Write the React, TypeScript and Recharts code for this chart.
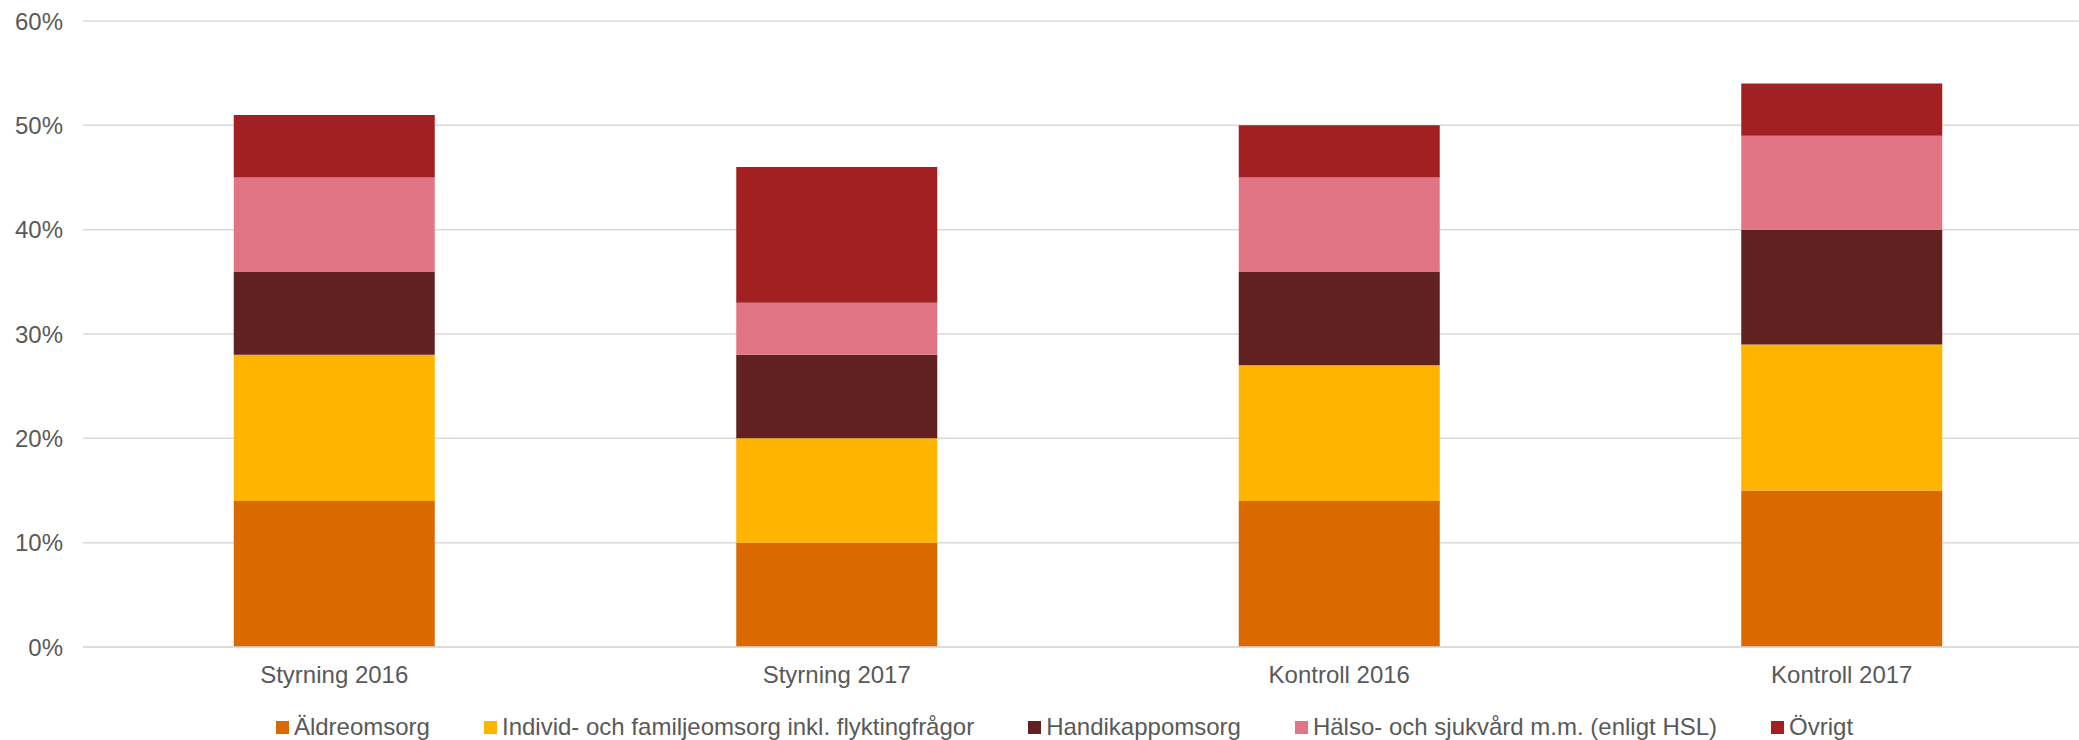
import React from 'react';
import { BarChart, Bar, XAxis, YAxis, CartesianGrid, Legend } from 'recharts';

const categories = ['Styrning 2016', 'Styrning 2017', 'Kontroll 2016', 'Kontroll 2017'];
const aldreomsorg = [14, 10, 14, 15];
const individ = [14, 10, 13, 14];
const handikapp = [8, 8, 9, 11];
const halso = [9, 5, 9, 9];
const ovrigt = [6, 13, 5, 5];
const yTicks = [0, 10, 20, 30, 40, 50, 60];

const series = [
  { key: 'aldre', name: 'Äldreomsorg', color: '#DA6900', values: aldreomsorg },
  { key: 'individ', name: 'Individ- och familjeomsorg inkl. flyktingfrågor', color: '#FFB400', values: individ },
  { key: 'handikapp', name: 'Handikappomsorg', color: '#612121', values: handikapp },
  { key: 'halso', name: 'Hälso- och sjukvård m.m. (enligt HSL)', color: '#E27585', values: halso },
  { key: 'ovrigt', name: 'Övrigt', color: '#A21F22', values: ovrigt },
];

const data = categories.map((cat, i) => {
  const row: any = { category: cat };
  series.forEach((s) => {
    row[s.key] = s.values[i];
  });
  return row;
});

const FONT = '"Liberation Sans", Arial, sans-serif';

// legend is centred on the visible 2079px, not on the wider chart
const LegendContent = () => (
  <div
    style={{
      display: 'flex',
      justifyContent: 'center',
      gap: 54,
      fontFamily: FONT,
      fontSize: 24,
      color: '#595959',
      width: 2079,
      paddingLeft: 50,
      boxSizing: 'border-box',
      marginTop: 3,
    }}
  >
    {series.map((s) => (
      <div key={s.key} style={{ display: 'flex', alignItems: 'center' }}>
        <span style={{ width: 13, height: 13, background: s.color, marginRight: 5, display: 'inline-block' }} />
        <span>{s.name}</span>
      </div>
    ))}
  </div>
);

export default function App() {
  return (
    <div style={{ width: 2079, height: 740, background: '#fff', overflow: 'hidden' }}>
      <style>{`body{margin:0}`}</style>
      <BarChart
        width={2093}
        height={740}
        data={data}
        margin={{ top: 21, right: 0, left: 0, bottom: 0 }}
        barCategoryGap="30%"
      >
        <CartesianGrid vertical={false} stroke="#D9D9D9" strokeWidth={1.5} />
        <XAxis
          dataKey="category"
          axisLine={{ stroke: '#D9D9D9', strokeWidth: 1.5 }}
          tickLine={false}
          tickSize={0}
          tickMargin={19}
          height={63}
          tick={{ fill: '#595959', fontSize: 24, fontFamily: FONT }}
        />
        <YAxis
          domain={[0, 60]}
          ticks={yTicks}
          tickFormatter={(v: number) => `${v}%`}
          axisLine={false}
          tickLine={false}
          tickSize={0}
          tickMargin={20}
          width={83}
          tick={{ fill: '#595959', fontSize: 24, fontFamily: FONT }}
        />
        <Legend verticalAlign="bottom" height={30} content={<LegendContent />} />
        {series.map((s) => (
          <Bar
            key={s.key}
            dataKey={s.key}
            name={s.name}
            stackId="a"
            fill={s.color}
            isAnimationActive={false}
          />
        ))}
      </BarChart>
    </div>
  );
}
